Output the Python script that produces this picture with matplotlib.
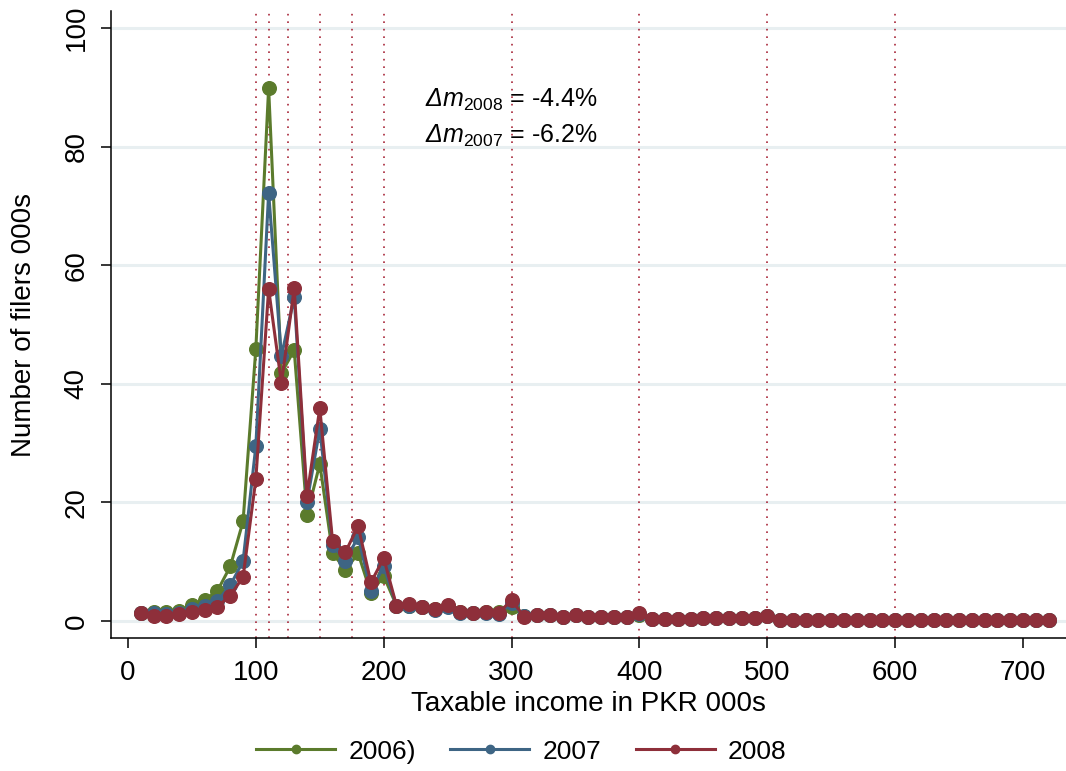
import matplotlib
matplotlib.use("Agg")
import matplotlib.pyplot as plt
import numpy as np

plt.rcParams['font.family'] = ['Liberation Sans', 'DejaVu Sans']
plt.rcParams['mathtext.fontset'] = 'custom'
plt.rcParams['mathtext.rm'] = 'Liberation Sans'
plt.rcParams['mathtext.it'] = 'Liberation Sans:italic'
# italic capital Greek goes through the cal slot
plt.rcParams['mathtext.cal'] = 'Liberation Sans:italic'

# income brackets, PKR 000s
income = np.arange(10, 730, 10)

# number of filers (000s) per bracket
tail = [0.4, 0.4, 0.4, 0.4, 0.45, 0.45, 0.45, 0.45, 0.45, 0.8] + [0.2] * 22
filers_2006 = [1.3, 1.6, 1.5, 1.7, 2.7, 3.5, 5.1, 9.2, 16.8, 45.9,
               89.9, 41.8, 45.7, 17.9, 26.5, 11.5, 8.6, 11.4, 4.7, 7.6,
               2.6, 2.6, 2.4, 2.0, 2.6, 1.6, 1.4, 1.6, 1.5, 2.4,
               0.9, 1.0, 1.0, 0.7, 1.0, 0.7, 0.6, 0.6, 0.6, 1.0] + tail
filers_2007 = [1.3, 1.3, 1.2, 1.4, 2.0, 2.6, 3.4, 6.0, 10.1, 29.5,
               72.2, 44.7, 54.6, 20.1, 32.4, 12.9, 10.1, 14.2, 5.1, 9.2,
               2.6, 2.6, 2.3, 1.9, 2.4, 1.4, 1.3, 1.4, 1.2, 3.0,
               0.8, 1.0, 1.0, 0.6, 1.0, 0.7, 0.6, 0.6, 0.6, 1.2] + tail
filers_2008 = [1.3, 0.9, 0.8, 1.1, 1.5, 1.9, 2.4, 4.3, 7.4, 23.9,
               56.0, 40.1, 56.1, 21.1, 35.9, 13.5, 11.6, 16.0, 6.5, 10.6,
               2.6, 2.8, 2.4, 2.0, 2.7, 1.6, 1.4, 1.6, 1.4, 3.5,
               0.7, 1.0, 1.0, 0.6, 1.0, 0.7, 0.6, 0.6, 0.6, 1.3] + tail

# tax slab thresholds
thresholds = [100, 110, 125, 150, 175, 200, 300, 400, 500, 600]

series = [("2006)", filers_2006, "#5b7b2c"),
          ("2007", filers_2007, "#3e6584"),
          ("2008", filers_2008, "#8e2f3a")]

fig = plt.figure(figsize=(10.66, 7.71), dpi=100)
ax = fig.add_axes([0.1041, 0.1725, 0.8959, 0.8132])

for y in [0, 20, 40, 60, 80, 100]:
    ax.axhline(y, color="#e8eff1", lw=2.2, zorder=0)
for t in thresholds:
    ax.axvline(t, color="#a8283a", lw=1.2, ls=(0, (1, 3.5)), zorder=1)

for name, vals, col in series:
    ax.plot(income, vals, color=col, lw=2.2, marker="o", ms=9.8,
            label=name, zorder=3)

ax.set_xlim(-13.3, 733.6)
ax.set_ylim(-2.87, 102.9)
ax.set_xticks(range(0, 800, 100))
ax.set_yticks(range(0, 120, 20))
ax.tick_params(axis="both", labelsize=20, length=7.5, width=1.1, pad=8)
ax.tick_params(axis="y", labelrotation=90)
for lab in ax.get_yticklabels():
    lab.set_va("center")
for s in ["top", "right"]:
    ax.spines[s].set_visible(False)
for s in ["left", "bottom"]:
    ax.spines[s].set_linewidth(1.1)

ax.set_xlabel("Taxable income in PKR 000s", fontsize=20, labelpad=4)
ax.set_ylabel("Number of filers 000s", fontsize=20, labelpad=19)

ax.text(232.3, 86.7, r"$\mathcal{Δ}\mathit{m}_{\mathit{2008}}$ = -4.4%",
        fontsize=18, va="baseline", ha="left", zorder=4)
ax.text(232.3, 80.7, r"$\mathcal{Δ}\mathit{m}_{\mathit{2007}}$ = -6.2%",
        fontsize=18, va="baseline", ha="left", zorder=4)

leg = fig.legend(loc="center", bbox_to_anchor=(0.489, 0.025), ncol=3,
                 frameon=False, handlelength=3.0, handletextpad=0.5,
                 columnspacing=1.3, prop={"size": 19})
for h in leg.legend_handles:
    h.set_markersize(6)

fig.savefig("out.png", dpi=100)
